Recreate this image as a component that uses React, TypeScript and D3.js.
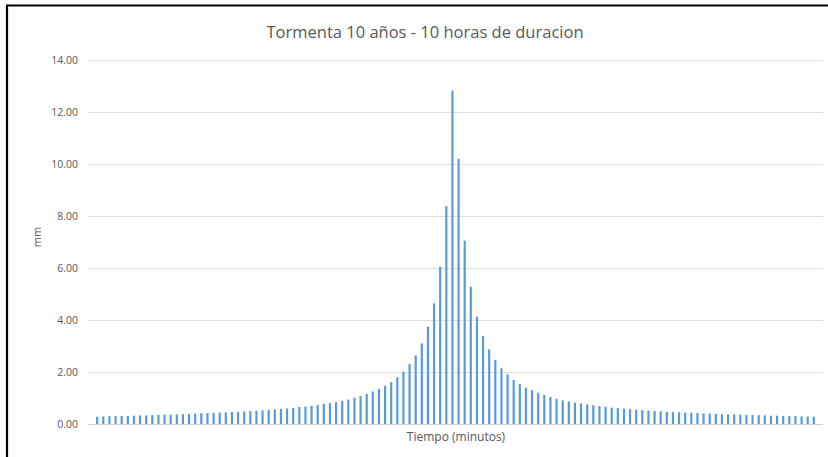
import React, { useEffect, useRef } from "react";
import * as d3 from "d3";

// precipitacion por intervalo de 5 minutos (mm)
const lluvia: number[] = [
  0.0, 0.28, 0.29, 0.3, 0.3, 0.31, 0.31, 0.32, 0.33, 0.33,
  0.34, 0.35, 0.36, 0.36, 0.37, 0.38, 0.39, 0.4, 0.41, 0.42,
  0.43, 0.44, 0.45, 0.46, 0.47, 0.48, 0.5, 0.51, 0.52, 0.54,
  0.56, 0.58, 0.6, 0.62, 0.65, 0.67, 0.7, 0.73, 0.77, 0.8,
  0.84, 0.89, 0.94, 1.01, 1.08, 1.16, 1.25, 1.35, 1.47, 1.61,
  1.8, 2.02, 2.3, 2.64, 3.1, 3.74, 4.64, 6.05, 8.38, 12.82,
  10.2, 7.05, 5.28, 4.13, 3.38, 2.87, 2.46, 2.14, 1.91, 1.69,
  1.54, 1.4, 1.3, 1.2, 1.12, 1.04, 0.97, 0.91, 0.87, 0.82,
  0.79, 0.75, 0.72, 0.69, 0.66, 0.63, 0.61, 0.59, 0.57, 0.55,
  0.53, 0.51, 0.5, 0.49, 0.47, 0.46, 0.45, 0.44, 0.43, 0.42,
  0.41, 0.4, 0.39, 0.38, 0.37, 0.37, 0.36, 0.35, 0.34, 0.34,
  0.33, 0.32, 0.32, 0.31, 0.3, 0.3, 0.29, 0.29, 0.28, 0.0,
];

// minutos de cada intervalo
const minutos: number[] = lluvia.map((_, i) => (i + 1) * 5);

const yTicks: number[] = [0, 2, 4, 6, 8, 10, 12, 14];

const titulo = "Tormenta 10 años - 10 horas de duracion";
const ejeX = "Tiempo (minutos)";
const ejeY = "mm";

const W = 828;
const H = 457;

const App: React.FC = () => {
  const ref = useRef<SVGSVGElement | null>(null);

  useEffect(() => {
    document.body.style.margin = "0";
    if (!ref.current) return;
    const svg = d3.select(ref.current);
    svg.selectAll("*").remove();

    const margin = { top: 60, right: 5, bottom: 33, left: 88 };
    const font = "'Open Sans', 'Liberation Sans', sans-serif";

    const x = d3
      .scaleBand<number>()
      .domain(minutos)
      .range([margin.left, W - margin.right]);

    const y = d3
      .scaleLinear()
      .domain([0, 14])
      .range([H - margin.bottom, margin.top]);

    svg.append("rect").attr("width", W).attr("height", H).attr("fill", "#fff");

    // lineas de division
    svg
      .append("g")
      .selectAll("line")
      .data(yTicks)
      .join("line")
      .attr("x1", margin.left)
      .attr("x2", W - margin.right)
      .attr("y1", (d) => Math.round(y(d)) + 0.5)
      .attr("y2", (d) => Math.round(y(d)) + 0.5)
      .attr("stroke", (d) => (d === 0 ? "#cfcfcf" : "#dedede"))
      .attr("stroke-width", 1);

    // etiquetas eje Y
    svg
      .append("g")
      .selectAll("text")
      .data(yTicks)
      .join("text")
      .attr("x", margin.left - 10)
      .attr("y", (d) => y(d))
      .attr("dy", "0.35em")
      .attr("text-anchor", "end")
      .attr("font-family", font)
      .attr("font-size", 10.5)
      .attr("fill", "#595959")
      .text((d) => d.toFixed(2));

    // barras
    const bw = 2.2;
    svg
      .append("g")
      .selectAll("rect")
      .data(lluvia.map((v, i) => ({ t: minutos[i], v })))
      .join("rect")
      .attr("x", (d) => (x(d.t) ?? 0) + x.bandwidth() / 2 - bw / 2)
      .attr("width", bw)
      .attr("y", (d) => y(d.v))
      .attr("height", (d) => y(0) - y(d.v))
      .attr("fill", "#5b9bd5");

    // titulo
    svg
      .append("text")
      .attr("x", 425)
      .attr("y", 38)
      .attr("text-anchor", "middle")
      .attr("font-family", font)
      .attr("font-size", 16.5)
      .attr("fill", "#595959")
      .text(titulo);

    svg
      .append("text")
      .attr("x", 456)
      .attr("y", 441)
      .attr("text-anchor", "middle")
      .attr("font-family", font)
      .attr("font-size", 12)
      .attr("fill", "#595959")
      .text(ejeX);

    svg
      .append("text")
      .attr("transform", "translate(41,237) rotate(-90)")
      .attr("text-anchor", "middle")
      .attr("font-family", font)
      .attr("font-size", 11)
      .attr("fill", "#595959")
      .text(ejeY);

    // marco negro (arriba e izquierda)
    svg
      .append("path")
      .attr("d", `M7,${H} V5.5 H${W}`)
      .attr("fill", "none")
      .attr("stroke", "#000")
      .attr("stroke-width", 2.2);
  }, []);

  return (
    <svg
      ref={ref}
      width={W}
      height={H}
      style={{ position: "absolute", left: 0, top: 0, display: "block" }}
    />
  );
};

export default App;
